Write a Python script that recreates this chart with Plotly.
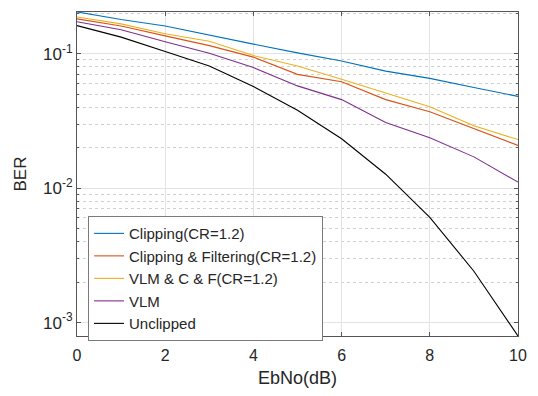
import plotly.graph_objects as go

ebno = [0, 1, 2, 3, 4, 5, 6, 7, 8, 9, 10]
clipping = [0.205, 0.180, 0.161, 0.137, 0.118, 0.1016, 0.0883, 0.0743, 0.0656, 0.0561, 0.0482]
clip_filter = [0.182, 0.161, 0.136, 0.115, 0.0945, 0.0703, 0.062, 0.0456, 0.0371, 0.0279, 0.0208]
vlm_cf = [0.188, 0.167, 0.141, 0.124, 0.097, 0.081, 0.0646, 0.051, 0.0404, 0.0291, 0.023]
vlm = [0.173, 0.151, 0.123, 0.101, 0.079, 0.0577, 0.0456, 0.0308, 0.0237, 0.0171, 0.0111]
unclipped = [0.162, 0.133, 0.104, 0.081, 0.057, 0.038, 0.0233, 0.0127, 0.00607, 0.00241, 0.000794]

names = ["Clipping(CR=1.2)", "Clipping & Filtering(CR=1.2)", "VLM & C & F(CR=1.2)", "VLM", "Unclipped"]
colors = ["#0072BD", "#D95319", "#EDB120", "#7E2F8E", "#000000"]
series = [clipping, clip_filter, vlm_cf, vlm, unclipped]

y_tickvals = [1e-3, 1e-2, 1e-1]
y_ticktext = ["10<sup>-3</sup>", "10<sup>-2</sup>", "10<sup>-1</sup>"]
y_minorvals = [m * d for d in (1e-3, 1e-2, 1e-1) for m in range(2, 10)]
x_tickvals = [0, 2, 4, 6, 8, 10]

fig = go.Figure()
for n, c, s in zip(names, colors, series):
    fig.add_trace(go.Scatter(x=ebno, y=s, mode="lines", name=n,
                             line=dict(color=c, width=1.1)))

font = "Liberation Sans, Arial, Helvetica, sans-serif"
fig.update_layout(
    width=538, height=396,
    margin=dict(l=77, r=17, t=11, b=55),
    paper_bgcolor="white", plot_bgcolor="white",
    font=dict(family=font, color="#262626", size=15),
    showlegend=True,
    legend=dict(x=0.025, y=0.37, xanchor="left", yanchor="top",
                bgcolor="white", bordercolor="#7a7a7a", borderwidth=1,
                font=dict(size=15, color="#262626"),
                tracegroupgap=0, itemwidth=30),
)
fig.update_xaxes(
    range=[0, 10], tickvals=x_tickvals,
    ticks="inside", ticklen=4, tickcolor="#555",
    showline=True, linecolor="#555", linewidth=1, mirror="ticks",
    showgrid=True, gridcolor="#e3e3e3", gridwidth=1,
    zeroline=False,
    tickfont=dict(size=16), ticklabelstandoff=5,
    title=dict(text="EbNo(dB)", font=dict(size=18), standoff=8),
)
fig.update_yaxes(
    type="log", range=[-3.1, -0.689],
    tickvals=y_tickvals, ticktext=y_ticktext,
    ticks="inside", ticklen=4, tickcolor="#555",
    showline=True, linecolor="#555", linewidth=1, mirror="ticks",
    showgrid=True, gridcolor="#e3e3e3", gridwidth=1,
    zeroline=False,
    minor=dict(tickmode="array", tickvals=y_minorvals,
               ticks="inside", ticklen=2, tickcolor="#555",
               showgrid=True, gridcolor="#d0d0d0", griddash="dot", gridwidth=1),
    tickfont=dict(size=17),
    title=dict(text="BER", font=dict(size=17), standoff=12),
)
fig.write_html("out.html")
